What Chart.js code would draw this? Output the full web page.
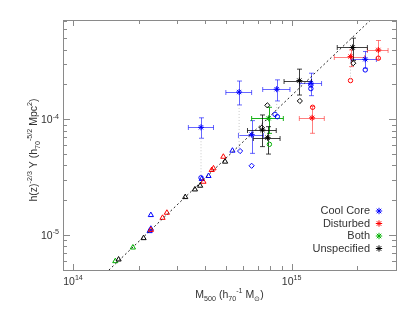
<!DOCTYPE html>
<html>
<head>
<meta charset="utf-8">
<script src="https://cdn.jsdelivr.net/npm/chart.js@4/dist/chart.umd.min.js"></script>
<style>
  html, body { margin:0; padding:0; background:#fff; }
  canvas { display:block; }
</style>
</head>
<body>
<canvas id="c" width="415" height="312"></canvas>
<script>
// ── Data ─────────────────────────────────────────────────────
const seriesNames = ['Cool Core', 'Disturbed', 'Both', 'Unspecified'];

// measured clusters: [M500, Y, M lo, M hi, Y lo, Y hi]
const coolCore = [
  [3.85e14, 8.53e-5, 3.37e14, 4.39e14, 6.86e-5, 1.03e-4],
  [5.75e14, 1.72e-4, 5.00e14, 6.56e14, 1.33e-4, 2.14e-4],
  [8.54e14, 1.82e-4, 7.37e14, 9.82e14, 1.44e-4, 2.19e-4],
  [6.56e14, 7.37e-5, 5.71e14, 7.42e14, 5.08e-5, 9.74e-5],
  [1.224e15, 2.05e-4, 1.09e15, 1.37e15, 1.60e-4, 2.50e-4],
  [2.17e15, 3.30e-4, 1.87e15, 2.44e15, 2.76e-4, 3.85e-4],
];
const disturbed = [
  [1.24e15, 1.03e-4, 1.084e15, 1.41e15, 7.57e-5, 1.29e-4],
  [1.86e15, 3.48e-4, 1.567e15, 2.16e15, 2.85e-4, 3.97e-4],
  [2.49e15, 3.97e-4, 2.22e15, 2.76e15, 3.30e-4, 4.79e-4],
];
const both = [
  [7.85e14, 1.02e-4, 6.56e14, 9.16e14, 7.56e-5, 1.27e-4],
];
const unspecified = [
  [7.35e14, 8.09e-5, 6.28e14, 8.50e14, 5.81e-5, 1.09e-4],
  [7.76e14, 6.94e-5, 6.68e14, 8.85e14, 5.01e-5, 8.64e-5],
  [1.084e15, 2.16e-4, 9.23e14, 1.233e15, 1.62e-4, 2.71e-4],
  [1.90e15, 4.17e-4, 1.616e15, 2.22e15, 3.21e-4, 5.02e-4],
];

// open triangles: [M500, Y]
const triCool = [[2.27e14,1.49e-5],[2.24e14,1.083e-5],[2.27e14,1.135e-5],[3.88e14,3.05e-5],[4.165e14,3.24e-5],[5.36e14,5.36e-5]];
const triDist = [[2.27e14,1.11e-5],[2.567e14,1.41e-5],[2.687e14,1.56e-5],[3.95e14,2.89e-5],[4.31e14,3.65e-5],[4.39e14,3.77e-5],[4.87e14,4.75e-5]];
const triBoth = [[1.561e14,5.96e-6],[1.879e14,7.82e-6]];
const triUnsp = [[1.616e14,6.16e-6],[2.102e14,9.42e-6],[3.26e14,2.13e-5],[3.61e14,2.48e-5],[3.814e14,2.67e-5],[4.96e14,4.31e-5]];

// open circles / diamonds: [M500, Y]
const circCool = [[3.85e14,3.13e-5],[8.39e14,1.104e-4],[8.6e14,1.054e-4],[1.224e15,1.98e-4],[1.224e15,1.84e-4],[2.17e15,2.67e-4]];
const circDist = [[1.247e15,1.27e-4],[1.858e15,2.16e-4],[2.49e15,3.37e-4]];
const circBoth = [[7.91e14,6.08e-5]];
const diamCool = [[5.81e14,5.32e-5],[6.56e14,3.97e-5]];
const diamUnsp = [[7.74e14,1.32e-4],[1.09e15,1.44e-4],[1.912e15,3.05e-4],[7.3e14,8.47e-5]];

// dotted links: [M500, Y from, Y to]
const links = [[3.85e14,6.86e-5,3.13e-5],[5.75e14,1.33e-4,5.32e-5],[8.54e14,1.44e-4,1.104e-4],[1.858e15,2.85e-4,2.16e-4]];

const fitM = [1.457e14, 2.30e15];
const fitY = [4.98e-6, 7.23e-4];

// ticks
const xTicks = [1e14,2e14,3e14,4e14,5e14,6e14,7e14,8e14,9e14,1e15,2e15];
const yTicks = [6e-6,7e-6,8e-6,9e-6,1e-5,2e-5,3e-5,4e-5,5e-5,6e-5,7e-5,8e-5,9e-5,1e-4,2e-4,3e-4,4e-4,5e-4,6e-4,7e-4];
const xMajor = [1e14, 1e15], xMajorExp = ['14', '15'];
const yMajor = [1e-5, 1e-4], yMajorExp = ['-5', '-4'];

// ── Styles ───────────────────────────────────────────────────
const FONT = "'Liberation Sans', Arial, sans-serif";
const COL = { blue:'#0000ff', red:'#ff0000', green:'#00b000', black:'#000000' };
const legendCols = [COL.blue, COL.red, COL.green, COL.black];
const barSets = [
  [coolCore, 'rgba(0,0,255,0.6)'],
  [disturbed, 'rgba(255,0,0,0.5)'],
  [both, 'rgba(0,170,0,0.9)'],
  [unspecified, 'rgba(0,0,0,0.75)'],
];

const pts = rows => rows.map(r => ({ x: r[0], y: r[1] }));
function marks(rows, style, color, radius, fill) {
  return { data: pts(rows), showLine: false, pointStyle: style, pointRadius: radius,
    pointBorderColor: color, pointBackgroundColor: fill || 'rgba(0,0,0,0)', pointBorderWidth: 1 };
}

const datasets = [
  { data: fitM.map((m,i) => ({ x: m, y: fitY[i] })), showLine: true, borderColor: '#222',
    borderWidth: 1, borderDash: [2,2.5], pointRadius: 0 },
  ...links.map(l => ({ data: [{ x: l[0], y: l[1] }, { x: l[0], y: l[2] }], showLine: true,
    borderColor: '#c8c8c8', borderWidth: 1, borderDash: [1,2], pointRadius: 0 })),
  marks(triUnsp, 'triangle', COL.black, 3),
  marks(triBoth, 'triangle', COL.green, 3),
  marks(triDist, 'triangle', COL.red, 3),
  marks(triCool, 'triangle', COL.blue, 3),
  marks(circCool, 'circle', COL.blue, 2.2),
  marks(circDist, 'circle', COL.red, 2.2),
  marks(circBoth, 'circle', COL.green, 2.2),
  marks(diamCool, 'rectRot', COL.blue, 2.6),
  marks(diamUnsp, 'rectRot', COL.black, 2.6),
  marks(coolCore, 'star', COL.blue, 3),
  marks(disturbed, 'star', COL.red, 3),
  marks(both, 'star', COL.green, 3),
  marks(unspecified, 'star', COL.black, 3),
];

// ── Helpers ──────────────────────────────────────────────────
function drawRich(ctx, segs, x, y, align, size) {
  const small = size * 0.68;
  const fonts = segs.map(s => (s[1] ? small : size) + 'px ' + FONT);
  let w = 0;
  const widths = segs.map((s, i) => { ctx.font = fonts[i]; const m = ctx.measureText(s[0]).width; w += m; return m; });
  let cx = align === 'center' ? x - w / 2 : align === 'right' ? x - w : x;
  ctx.textAlign = 'left'; ctx.textBaseline = 'alphabetic';
  segs.forEach((s, i) => {
    ctx.font = fonts[i];
    const dy = s[1] === 1 ? -size * 0.45 : s[1] === -1 ? size * 0.28 : 0;
    ctx.fillText(s[0], cx, y + dy);
    cx += widths[i];
  });
}

function star(ctx, x, y, r) {
  const d = r * 0.707;
  ctx.beginPath();
  ctx.moveTo(x - r, y); ctx.lineTo(x + r, y);
  ctx.moveTo(x, y - r); ctx.lineTo(x, y + r);
  ctx.moveTo(x - d, y - d); ctx.lineTo(x + d, y + d);
  ctx.moveTo(x - d, y + d); ctx.lineTo(x + d, y - d);
  ctx.stroke();
}

// ── Plugins ──────────────────────────────────────────────────
const errorBars = {
  id: 'errorBars',
  beforeDatasetsDraw(chart) {
    const { ctx, scales: { x, y } } = chart;
    const cap = 2.5;
    ctx.save();
    ctx.lineWidth = 1;
    barSets.forEach(([rows, color]) => {
      ctx.strokeStyle = color;
      rows.forEach(r => {
        const px = Math.round(x.getPixelForValue(r[0])) + 0.5, py = Math.round(y.getPixelForValue(r[1])) + 0.5;
        const x0 = x.getPixelForValue(r[2]), x1 = x.getPixelForValue(r[3]);
        const y0 = y.getPixelForValue(r[4]), y1 = y.getPixelForValue(r[5]);
        ctx.beginPath();
        ctx.moveTo(x0, py); ctx.lineTo(x1, py);
        ctx.moveTo(x0, py - cap); ctx.lineTo(x0, py + cap);
        ctx.moveTo(x1, py - cap); ctx.lineTo(x1, py + cap);
        ctx.moveTo(px, y0); ctx.lineTo(px, y1);
        ctx.moveTo(px - cap, y0); ctx.lineTo(px + cap, y0);
        ctx.moveTo(px - cap, y1); ctx.lineTo(px + cap, y1);
        ctx.stroke();
      });
    });
    ctx.restore();
  }
};

const frame = {
  id: 'frame',
  afterDraw(chart) {
    const { ctx, chartArea: a, scales: { x, y } } = chart;
    ctx.save();
    ctx.strokeStyle = '#8a8a8a';
    ctx.lineWidth = 1;
    ctx.strokeRect(a.left + 0.5, a.top + 0.5, a.right - a.left, a.bottom - a.top);
    ctx.beginPath();
    xTicks.forEach(v => {
      const px = Math.round(x.getPixelForValue(v)) + 0.5;
      const len = xMajor.includes(v) ? 6 : 4;
      ctx.moveTo(px, a.bottom); ctx.lineTo(px, a.bottom - len);
      ctx.moveTo(px, a.top); ctx.lineTo(px, a.top + len);
    });
    yTicks.forEach(v => {
      const py = Math.round(y.getPixelForValue(v)) + 0.5;
      const len = yMajor.includes(v) ? 7 : 4;
      ctx.moveTo(a.left, py); ctx.lineTo(a.left + len, py);
      ctx.moveTo(a.right, py); ctx.lineTo(a.right - len, py);
    });
    ctx.stroke();

    ctx.fillStyle = '#333';
    xMajor.forEach((v, i) => {
      drawRich(ctx, [['10', 0], [xMajorExp[i], 1]], x.getPixelForValue(v), a.bottom + 15, 'center', 10.5);
    });
    yMajor.forEach((v, i) => {
      drawRich(ctx, [['10', 0], [yMajorExp[i], 1]], a.left - 4, y.getPixelForValue(v) + 4, 'right', 10.5);
    });

    // axis titles
    drawRich(ctx, [['M', 0], ['500', -1], [' (h', 0], ['70', -1], ['-1', 1], [' M', 0], ['\u2299', -1], [')', 0]],
      (a.left + a.right) / 2, a.bottom + 28, 'center', 10.5);
    ctx.save();
    ctx.translate(37, 150);
    ctx.rotate(-Math.PI / 2);
    drawRich(ctx, [['h(z)', 0], ['-2/3', 1], [' Y (h', 0], ['70', -1], ['-5/2', 1], [' Mpc', 0], ['2', 1], [')', 0]],
      0, 0, 'center', 10.5);
    ctx.restore();

    // legend
    seriesNames.forEach((name, i) => {
      const ly = a.top + 191 + i * 12.5;
      ctx.fillStyle = '#333';
      ctx.font = '11px ' + FONT;
      ctx.textAlign = 'right'; ctx.textBaseline = 'middle';
      ctx.fillText(name, a.right - 26, ly);
      ctx.strokeStyle = legendCols[i];
      star(ctx, a.right - 17, ly, 3.2);
    });
    ctx.restore();
  }
};

// ── Chart ────────────────────────────────────────────────────
new Chart(document.getElementById('c'), {
  type: 'scatter',
  data: { datasets },
  options: {
    responsive: false,
    devicePixelRatio: 1,
    animation: false,
    layout: { padding: { left: 63, top: 20, right: 19, bottom: 42 } },
    plugins: { legend: { display: false }, tooltip: { enabled: false } },
    scales: {
      x: { type: 'logarithmic', min: 9e13, max: 3e15, display: false },
      y: { type: 'logarithmic', min: 5e-6, max: 7.2e-4, display: false },
    },
  },
  plugins: [errorBars, frame],
});
</script>
</body>
</html>
